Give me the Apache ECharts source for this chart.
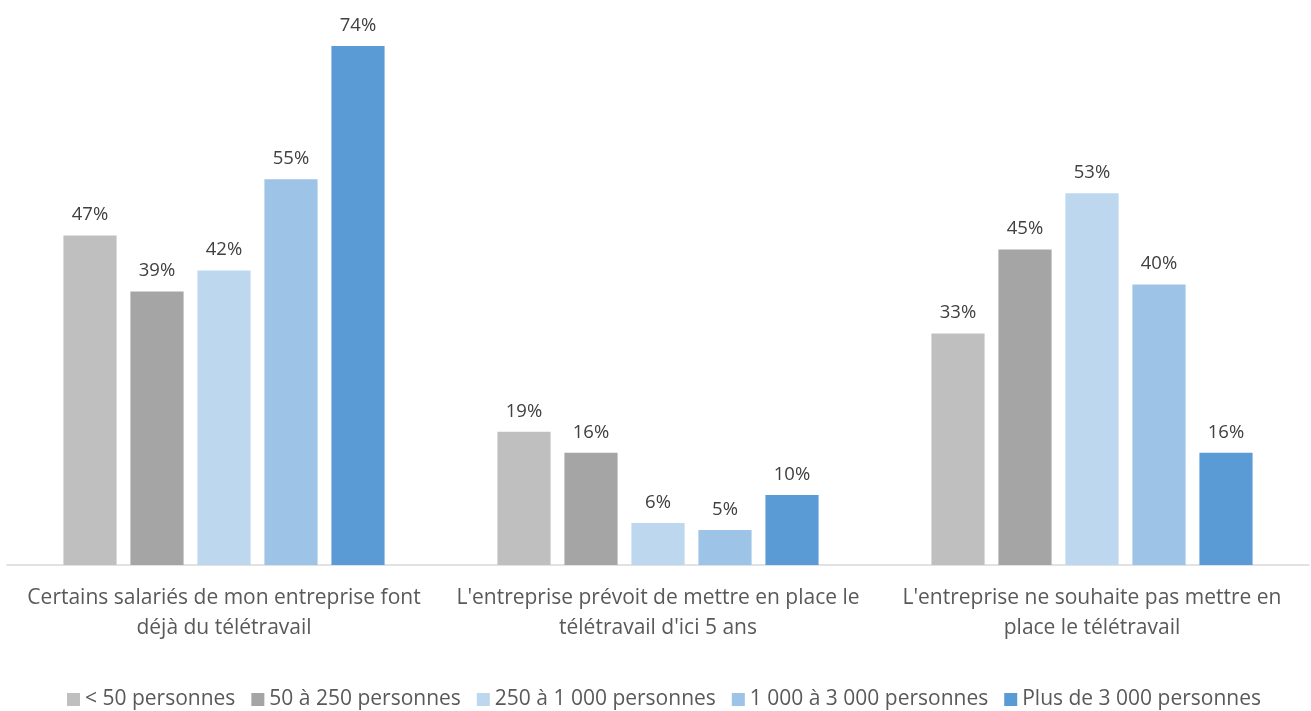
<!DOCTYPE html>
<html>
<head>
<meta charset="utf-8">
<script src="https://cdn.jsdelivr.net/npm/echarts@6/dist/echarts.min.js"></script>
<style>
  html, body { margin: 0; padding: 0; background: #fff; }
  #chart { width: 1311px; height: 711px; }
</style>
</head>
<body>
<div id="chart"></div>
<script>
// Situation du télétravail selon la taille de l'entreprise (%)
const categories = [
  "Certains salariés de mon entreprise font\ndéjà du télétravail",
  "L'entreprise prévoit de mettre en place le\ntélétravail d'ici 5 ans",
  "L'entreprise ne souhaite pas mettre en\nplace le télétravail"
];
const seriesNames = [
  "< 50 personnes",
  "50 à 250 personnes",
  "250 à 1 000 personnes",
  "1 000 à 3 000 personnes",
  "Plus de 3 000 personnes"
];
const lessThan50 = [47, 19, 33];
const from50to250 = [39, 16, 45];
const from250to1000 = [42, 6, 53];
const from1000to3000 = [55, 5, 40];
const moreThan3000 = [74, 10, 16];

const seriesValues = [lessThan50, from50to250, from250to1000, from1000to3000, moreThan3000];
const colors = ["#BFBFBF", "#A5A5A5", "#BDD7EE", "#9DC3E6", "#5B9BD5"];
const FONT = "'Open Sans', 'Noto Sans', sans-serif";

const chart = echarts.init(document.getElementById('chart'), null, { renderer: 'canvas' });
chart.setOption({
  animation: false,
  color: colors,
  textStyle: { fontFamily: FONT },
  grid: { left: 7, right: 2, top: 4, bottom: 146, containLabel: false },
  legend: {
    top: 684,
    left: 62,
    itemWidth: 13,
    itemHeight: 13,
    itemGap: 16,
    itemTextGap: 5,
    icon: 'rect',
    textStyle: { fontSize: 21, color: '#595959', fontFamily: FONT },
    data: seriesNames
  },
  xAxis: {
    type: 'category',
    data: categories,
    axisLine: { lineStyle: { color: '#D9D9D9', width: 1.5 } },
    axisTick: { show: false },
    axisLabel: {
      interval: 0,
      fontSize: 21,
      lineHeight: 30,
      color: '#595959',
      margin: 18,
      fontFamily: FONT
    }
  },
  yAxis: {
    type: 'value',
    min: 0,
    max: 80,
    show: false,
    splitLine: { show: false }
  },
  series: seriesValues.map((vals, i) => ({
    name: seriesNames[i],
    type: 'bar',
    data: vals,
    barGap: '26%',
    barCategoryGap: '26%',
    label: {
      show: true,
      position: 'top',
      distance: 11,
      formatter: '{c}%',
      fontSize: 18.5,
      color: '#404040',
      fontFamily: FONT
    }
  }))
});
</script>
</body>
</html>
